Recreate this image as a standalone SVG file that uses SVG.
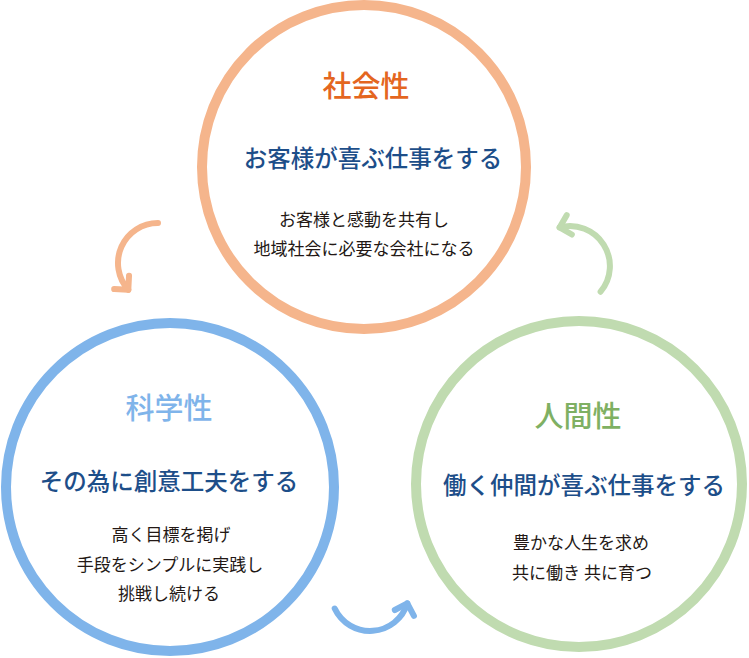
<svg xmlns="http://www.w3.org/2000/svg" width="749" height="658" viewBox="0 0 749 658">
  <style>
    text { font-family: "Noto Sans CJK JP", "Noto Sans", sans-serif; text-anchor: middle; }
    .ring { fill: #ffffff; stroke-width: 10; }
    .title { font-size: 29px; font-weight: 500; }
    .main { font-size: 23.5px; font-weight: 500; fill: #1d4e89; }
    .body { font-size: 17px; fill: #231815; }
    .arc { fill: none; stroke-width: 6; stroke-linecap: round; }
    .head { fill: none; stroke-width: 6; stroke-linecap: round; stroke-linejoin: round; }
  </style>
  <defs>
    <marker id="mOrange" markerUnits="userSpaceOnUse" orient="auto" refX="0" refY="0" markerWidth="30" markerHeight="30" viewBox="-15 -15 30 30" overflow="visible">
      <path class="head" d="M -10 -10 L 0 0 L -10 10" stroke="#f5b58c"/>
    </marker>
    <marker id="mGreen" markerUnits="userSpaceOnUse" orient="auto" refX="0" refY="0" markerWidth="30" markerHeight="30" viewBox="-15 -15 30 30" overflow="visible">
      <path class="head" d="M -10 -10 L 0 0 L -10 10" stroke="#c0dbb0"/>
    </marker>
    <marker id="mBlue" markerUnits="userSpaceOnUse" orient="auto" refX="0" refY="0" markerWidth="30" markerHeight="30" viewBox="-15 -15 30 30" overflow="visible">
      <path class="head" d="M -10 -10 L 0 0 L -10 10" stroke="#7fb4ea"/>
    </marker>
  </defs>

  <g id="connectors">
    <path class="arc" stroke="#f5b58c" d="M 158 223 A 40 40 0 0 0 128.3 289.8" marker-end="url(#mOrange)"/>
    <path class="arc" stroke="#c0dbb0" d="M 600.6 291.7 A 40 40 0 0 0 559.6 227.4" marker-end="url(#mGreen)"/>
    <path class="arc" stroke="#7fb4ea" d="M 334.7 608.5 A 39 39 0 0 0 407.3 603.4" marker-end="url(#mBlue)"/>
  </g>

  <g id="node-social">
    <circle class="ring" cx="364" cy="167" r="162" stroke="#f5b58c"/>
    <text class="title" x="366" y="97" fill="#e4661f">社会性</text>
    <text class="main" x="373" y="167">お客様が喜ぶ仕事をする</text>
    <text class="body" x="364" y="226">お客様と感動を共有し</text>
    <text class="body" x="364" y="255">地域社会に必要な会社になる</text>
  </g>

  <g id="node-science">
    <circle class="ring" cx="170" cy="487" r="164" stroke="#7fb4ea"/>
    <text class="title" x="169" y="419" fill="#7fb4ea">科学性</text>
    <text class="main" x="169" y="490">その為に創意工夫をする</text>
    <text class="body" x="171" y="541">高く目標を掲げ</text>
    <text class="body" x="170" y="571">手段をシンプルに実践し</text>
    <text class="body" x="169" y="600">挑戦し続ける</text>
  </g>

  <g id="node-human">
    <circle class="ring" cx="579" cy="484" r="163" stroke="#c0dbb0"/>
    <text class="title" x="578" y="427" fill="#7fb063">人間性</text>
    <text class="main" x="584" y="494">働く仲間が喜ぶ仕事をする</text>
    <text class="body" x="581" y="549">豊かな人生を求め</text>
    <text class="body" x="582" y="579">共に働き 共に育つ</text>
  </g>
</svg>
